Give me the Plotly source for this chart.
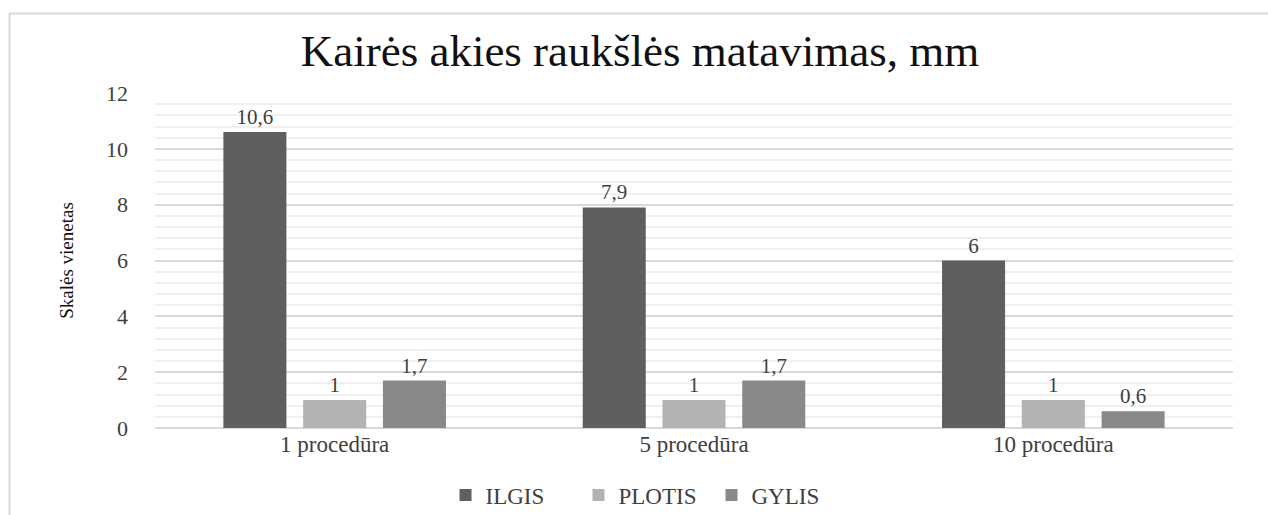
import plotly.graph_objects as go

categories = ["1 procedūra", "5 procedūra", "10 procedūra"]
series_names = ["ILGIS", "PLOTIS", "GYLIS"]
ilgis = [10.6, 7.9, 6]
plotis = [1, 1, 1]
gylis = [1.7, 1.7, 0.6]
colors = ["#5f5f5f", "#b3b3b3", "#898989"]
y_ticks = [0, 2, 4, 6, 8, 10, 12]

SERIF = "Liberation Serif"

def fmt(v):
    s = ("%g" % v)
    return s.replace(".", ",")

fig = go.Figure()
for name, vals, col in zip(series_names, [ilgis, plotis, gylis], colors):
    fig.add_trace(go.Bar(
        x=categories, y=vals, name=name,
        marker=dict(color=col, line=dict(width=0)),
        text=[fmt(v) for v in vals],
        textposition="outside",
        textfont=dict(family=SERIF, size=21, color="#404040"),
        cliponaxis=False,
    ))

W, H = 1268, 515
L, R, T, B = 155, 35, 93, 87
pw, ph = W - L - R, H - T - B

def px_x(x):
    return (x - L) / pw

def px_y(y):
    return (H - B - y) / ph

fig.update_layout(
    width=W, height=H,
    margin=dict(l=L, r=R, t=T, b=B, autoexpand=False),
    paper_bgcolor="white", plot_bgcolor="white",
    barmode="group", bargap=0.334, bargroupgap=0.21,
    title=dict(text="Kairės akies raukšlės matavimas, mm",
               x=px_x(640), xref="paper", xanchor="center",
               y=1 - 50 / H, yanchor="middle", yref="container",
               font=dict(family=SERIF, size=45, color="#111111")),
    font=dict(family=SERIF, color="#404040"),
    legend=dict(orientation="h", x=px_x(645), xanchor="center",
                y=(H - 495) / H, yref="container", yanchor="middle",
                font=dict(family=SERIF, size=23, color="#404040"),
                itemwidth=30, traceorder="normal",
                entrywidth=88, entrywidthmode="pixels"),
    xaxis=dict(showgrid=False, showline=False, ticks="",
               tickfont=dict(family=SERIF, size=23, color="#404040")),
    yaxis=dict(range=[0, 12], tickvals=y_ticks, showline=False,
               gridcolor="#d9d9d9", gridwidth=1.5, zeroline=True,
               zerolinecolor="#d9d9d9", zerolinewidth=1.5,
               ticks="", ticklabelstandoff=26,
               tickfont=dict(family=SERIF, size=22, color="#404040"),
               minor=dict(dtick=0.4, showgrid=True, gridcolor="#f0f0f0", gridwidth=1.5),
               title=dict(text="Skalės vienetas", standoff=27,
                          font=dict(family=SERIF, size=19, color="#111111"))),
    shapes=[dict(type="path", xref="paper", yref="paper",
                 path=f"M {px_x(9.5)} {px_y(515)} L {px_x(9.5)} {px_y(13.5)} L {px_x(1268)} {px_y(13.5)}",
                 line=dict(color="#d9d9d9", width=2))],
)

fig.write_html("out.html", config={"displayModeBar": False},
               post_script="document.body.style.margin='0';")
